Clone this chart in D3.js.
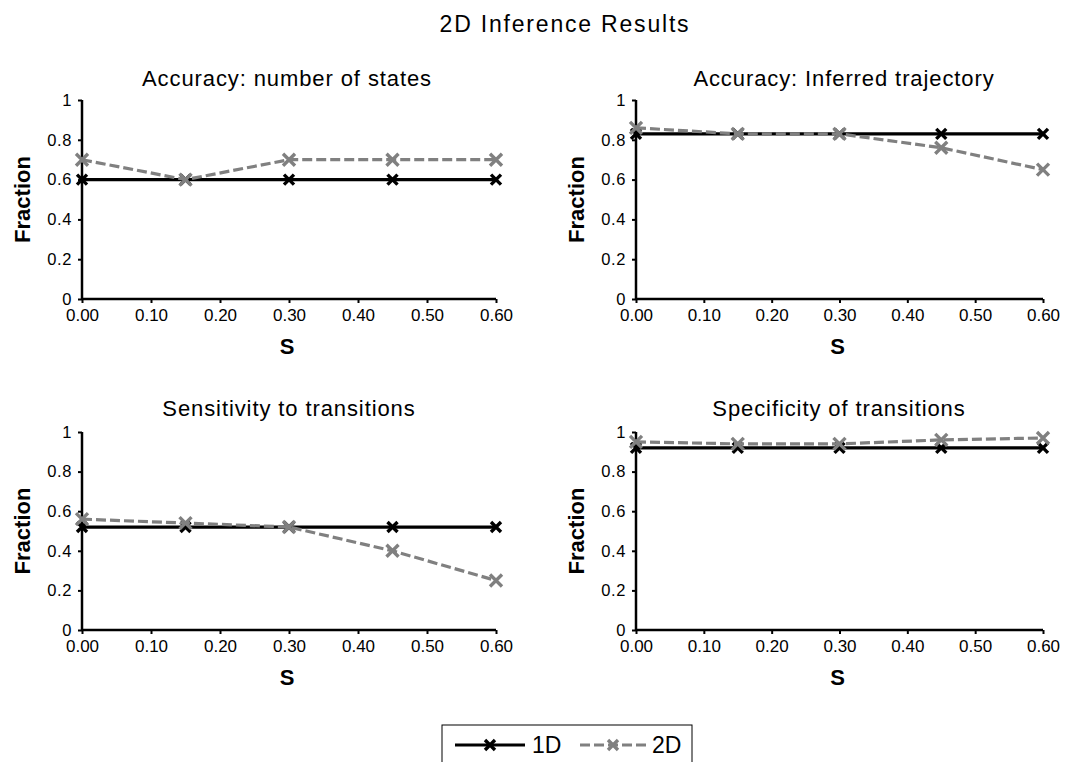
<!DOCTYPE html>
<html>
<head>
<meta charset="utf-8">
<script src="https://cdn.jsdelivr.net/npm/d3@7"></script>
<style>
  html, body { margin: 0; padding: 0; background: #fff; }
  svg { display: block; font-family: "Liberation Sans", Arial, sans-serif; }
</style>
</head>
<body>
<svg id="chart" width="1070" height="762"></svg>
<script>
// S values on the x axis
const sValues = [0.00, 0.15, 0.30, 0.45, 0.60];
const xTicks = [0.0, 0.1, 0.2, 0.3, 0.4, 0.5, 0.6];
const yTicks = [0, 0.2, 0.4, 0.6, 0.8, 1];

const panelTitles = [
  "Accuracy: number of states",
  "Accuracy: Inferred trajectory",
  "Sensitivity to transitions",
  "Specificity of transitions"
];

// 1D inference results per panel
const oneD_states      = [0.60, 0.60, 0.60, 0.60, 0.60];
const oneD_trajectory  = [0.83, 0.83, 0.83, 0.83, 0.83];
const oneD_sensitivity = [0.52, 0.52, 0.52, 0.52, 0.52];
const oneD_specificity = [0.92, 0.92, 0.92, 0.92, 0.92];

// 2D inference results per panel
const twoD_states      = [0.70, 0.60, 0.70, 0.70, 0.70];
const twoD_trajectory  = [0.86, 0.83, 0.83, 0.76, 0.65];
const twoD_sensitivity = [0.56, 0.54, 0.52, 0.40, 0.25];
const twoD_specificity = [0.95, 0.94, 0.94, 0.96, 0.97];

const seriesNames = ["1D", "2D"];

const panels = [
  { title: panelTitles[0], one: oneD_states,      two: twoD_states,      x0: 82,  x1: 496,  y0: 299, y1: 100, tx: 287, ty: 86 },
  { title: panelTitles[1], one: oneD_trajectory,  two: twoD_trajectory,  x0: 636, x1: 1043, y0: 299, y1: 100, tx: 844, ty: 86 },
  { title: panelTitles[2], one: oneD_sensitivity, two: twoD_sensitivity, x0: 82,  x1: 496,  y0: 630, y1: 432, tx: 289, ty: 416 },
  { title: panelTitles[3], one: oneD_specificity, two: twoD_specificity, x0: 636, x1: 1043, y0: 630, y1: 432, tx: 839, ty: 416 }
];

const svg = d3.select("#chart");

svg.append("text")
  .attr("x", 565).attr("y", 32)
  .attr("text-anchor", "middle")
  .attr("font-size", 23)
  .attr("letter-spacing", 1.8)
  .text("2D Inference Results");

const styles = {
  one: { color: "#000000", dash: null, size: 5, width: 3.2 },
  two: { color: "#808080", dash: "10,4", size: 6, width: 3.2 }
};

function drawCross(g, cx, cy, st) {
  const s = st.size;
  g.append("path")
    .attr("d", `M${cx - s},${cy - s}L${cx + s},${cy + s}M${cx - s},${cy + s}L${cx + s},${cy - s}`)
    .attr("stroke", st.color)
    .attr("stroke-width", 3.4)
    .attr("fill", "none");
}

panels.forEach(p => {
  const x = d3.scaleLinear().domain([0, 0.6]).range([p.x0, p.x1]);
  const y = d3.scaleLinear().domain([0, 1]).range([p.y0, p.y1]);
  const g = svg.append("g");

  // title
  g.append("text")
    .attr("x", p.tx)
    .attr("y", p.ty)
    .attr("text-anchor", "middle")
    .attr("font-size", 22)
    .attr("letter-spacing", 0.9)
    .text(p.title);

  // x axis
  const xAxis = g.append("g")
    .attr("transform", `translate(0,${p.y0})`)
    .call(d3.axisBottom(x).tickValues(xTicks).tickFormat(d3.format(".2f")).tickSize(4).tickPadding(6));
  xAxis.select(".domain").attr("stroke-width", 2.5).attr("d", `M${p.x0},0H${p.x1}`);
  xAxis.selectAll(".tick line").attr("stroke-width", 2);
  xAxis.selectAll(".tick text").attr("font-size", 17).attr("font-family", "Liberation Sans, Arial, sans-serif").attr("fill", "#000");

  // y axis
  const yAxis = g.append("g")
    .attr("transform", `translate(${p.x0},0)`)
    .call(d3.axisLeft(y).tickValues(yTicks).tickFormat(d => d3.format("")(+d.toFixed(1))).tickSize(4).tickPadding(6));
  yAxis.select(".domain").attr("stroke-width", 2.5).attr("d", `M0,${p.y0}V${p.y1}`);
  yAxis.selectAll(".tick line").attr("stroke-width", 2);
  yAxis.selectAll(".tick text").attr("font-size", 16.5).attr("letter-spacing", 0.6).attr("font-family", "Liberation Sans, Arial, sans-serif").attr("fill", "#000");

  // axis labels
  g.append("text")
    .attr("transform", `translate(${p.x0 - 52},${(p.y0 + p.y1) / 2}) rotate(-90)`)
    .attr("text-anchor", "middle")
    .attr("font-size", 22)
    .attr("font-weight", "bold")
    .text("Fraction");
  g.append("text")
    .attr("x", (p.x0 + p.x1) / 2 - 2)
    .attr("y", p.y0 + 55)
    .attr("text-anchor", "middle")
    .attr("font-size", 22)
    .attr("font-weight", "bold")
    .text("S");

  const line = d3.line().x((d, i) => x(sValues[i])).y(d => y(d));

  // 1D series
  g.append("path")
    .datum(p.one)
    .attr("d", line)
    .attr("fill", "none")
    .attr("stroke", styles.one.color)
    .attr("stroke-width", styles.one.width);
  p.one.forEach((v, i) => drawCross(g, x(sValues[i]), y(v), styles.one));

  // 2D series
  g.append("path")
    .datum(p.two)
    .attr("d", line)
    .attr("fill", "none")
    .attr("stroke", styles.two.color)
    .attr("stroke-width", styles.two.width)
    .attr("stroke-dasharray", styles.two.dash);
  p.two.forEach((v, i) => drawCross(g, x(sValues[i]), y(v), styles.two));
});

// legend
const lg = svg.append("g");
lg.append("rect")
  .attr("x", 442).attr("y", 725)
  .attr("width", 250).attr("height", 45)
  .attr("fill", "#fff")
  .attr("stroke", "#000")
  .attr("stroke-width", 1);

const legendItems = [
  { name: seriesNames[0], st: styles.one, lx0: 455, lx1: 525, mx: 490, tx: 532 },
  { name: seriesNames[1], st: styles.two, lx0: 580, lx1: 648, mx: 613, tx: 652 }
];
legendItems.forEach(it => {
  const ly = 745;
  lg.append("line")
    .attr("x1", it.lx0).attr("x2", it.lx1)
    .attr("y1", ly).attr("y2", ly)
    .attr("stroke", it.st.color)
    .attr("stroke-width", 3)
    .attr("stroke-dasharray", it.st.dash);
  drawCross(lg, it.mx, ly, { color: it.st.color, size: 5 });
  lg.append("text")
    .attr("x", it.tx).attr("y", 753)
    .attr("font-size", 23)
    .text(it.name);
});
</script>
</body>
</html>
